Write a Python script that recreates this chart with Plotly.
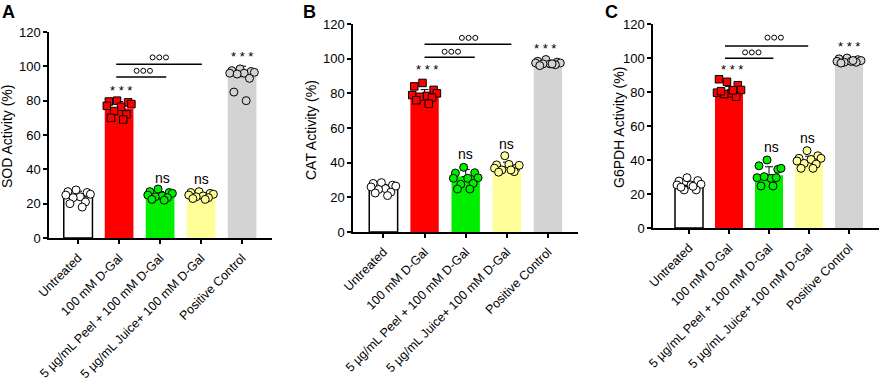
import plotly.graph_objects as go

categories = ["Untreated", "100 mM D-Gal", "5 µg/mL Peel + 100 mM D-Gal",
              "5 µg/mL Juice+ 100 mM D-Gal", "Positive Control"]
tick_values = [0, 20, 40, 60, 80, 100, 120]

# Bar heights (means) per panel
sod_bars = [24, 75.5, 25, 24.5, 94]
cat_bars = [25, 78.5, 32, 37.5, 97.5]
g6pdh_bars = [25, 80, 31, 39, 98]

# Individual replicate values per group
sod_untreated = [28, 27, 26.5, 25.5, 25, 24, 23.5, 21, 20, 18]
sod_dgal = [80, 79.5, 79, 78, 77, 76.5, 74, 72, 70, 69]
sod_peel = [28.5, 27, 26.5, 26, 25, 24.5, 24, 23.5, 22.5, 22]
sod_juice = [27, 26.5, 26, 25.5, 25, 24.5, 24, 23.5, 23, 22.5]
sod_pos = [98.5, 97.5, 97, 96.5, 96, 96, 95.5, 93, 85, 80]

cat_untreated = [28.5, 28, 27, 26.5, 26, 25, 24.5, 23, 22.5, 21]
cat_dgal = [86, 84, 82, 80, 79, 78.5, 78, 77.5, 76, 74]
cat_peel = [37.3, 34, 34.2, 31.3, 31, 31, 27.5, 28, 24.8, 24.8]
cat_juice = [44, 38.7, 36.8, 38.5, 36.8, 39, 35.8, 34.8, 34.5, 35.8]
cat_pos = [99.5, 98.5, 98, 97.5, 97.5, 97, 97, 96.5, 96, 97]

g6pdh_untreated = [29.6, 27.6, 27.9, 25.7, 25.3, 25.3, 22.4, 22.4, 24, 24.5]
g6pdh_dgal = [86, 87.5, 84, 81.2, 79.6, 79.2, 78.8, 77.2, 80.5, 81]
g6pdh_peel = [40, 36.6, 34.5, 35.1, 29.6, 29.2, 30.2, 29.6, 24.7, 24.7]
g6pdh_juice = [45.5, 41, 42.5, 41, 39.4, 40.3, 38, 37.6, 35.1, 35.1]
g6pdh_pos = [100, 99.5, 99, 98.5, 98, 98, 97.5, 97.5, 97, 98.5]

# horizontal jitter of replicate points (category units)
jitter = [-0.05, -0.25, 0.22, 0.3, -0.3, 0.05, -0.12, 0.18, -0.2, 0.1]

fill_colors = ["#FFFFFF", "#FF0000", "#00EE00", "#FFFF99", "#D3D3D3"]
symbols = ["circle", "square", "circle", "circle", "circle"]

panels = [
    dict(bars=sod_bars, pts=[sod_untreated, sod_dgal, sod_peel, sod_juice, sod_pos],
         title="SOD Activity (%)", letter="A",
         xdom=[49/879, 272/879], ydom=[(383-238)/383, (383-32)/383],
         xrange=[-0.71, 4.73], width=0.7, unit=41,
         title_xy=(7, 137),
         lines=[(0.93, 2.15, 93.8), (0.93, 3.02, 101.2)],
         rings=[(1.59, 97.4), (1.98, 105.2)],
         stars=[(1.05, 86.2), (4.0, 105.6)],
         ns=[(2.05, 34.8), (3.0, 34.4)], letter_x=0),
    dict(bars=cat_bars, pts=[cat_untreated, cat_dgal, cat_peel, cat_juice, cat_pos],
         title="CAT Activity (%)", letter="B",
         xdom=[353/879, 578/879], ydom=[(383-232)/383, (383-24)/383],
         xrange=[-0.74, 4.73], width=0.69, unit=41.1,
         title_xy=(311, 130),
         lines=[(1.0, 2.22, 100.8), (1.0, 3.11, 108.3)],
         rings=[(1.65, 104), (2.07, 112)],
         stars=[(1.07, 93.5), (3.93, 106)],
         ns=[(2.0, 45), (3.0, 50.8)], letter_x=301),
    dict(bars=g6pdh_bars, pts=[g6pdh_untreated, g6pdh_dgal, g6pdh_peel, g6pdh_juice, g6pdh_pos],
         title="G6PDH Activity (%)", letter="C",
         xdom=[653/879, 1.0], ydom=[(383-228)/383, (383-24)/383],
         xrange=[-0.9, 4.75], width=0.7, unit=40,
         title_xy=(619, 128),
         lines=[(0.9, 2.11, 99.8), (0.9, 2.98, 107)],
         rings=[(1.57, 103.3), (2.13, 112)],
         stars=[(1.07, 93.3), (4.0, 106.6)],
         ns=[(2.06, 47.8), (2.97, 52.7)], letter_x=603),
]

FONT = "Arial, Liberation Sans, sans-serif"
fig = go.Figure()
annotations = []
shapes = []

for i, p in enumerate(panels):
    ax = "" if i == 0 else str(i + 1)
    xref, yref = "x" + ax, "y" + ax
    sds = []
    for vals in p["pts"]:
        m = sum(vals) / len(vals)
        sds.append((sum((v - m) ** 2 for v in vals) / (len(vals) - 1)) ** 0.5)
    fig.add_trace(go.Bar(
        x=list(range(5)), y=p["bars"], width=p["width"],
        marker=dict(color=fill_colors,
                    line=dict(color=["black", "rgba(0,0,0,0)", "rgba(0,0,0,0)",
                                     "rgba(0,0,0,0)", "rgba(0,0,0,0)"], width=1.5)),
        error_y=dict(type="data", symmetric=False, array=sds, arrayminus=[0] * 5,
                     color="black", thickness=1, width=4),
        xaxis=xref, yaxis=yref, showlegend=False, hoverinfo="skip"))
    for g, vals in enumerate(p["pts"]):
        fig.add_trace(go.Scatter(
            x=[g + j for j in jitter[:len(vals)]], y=vals, mode="markers",
            marker=dict(symbol=symbols[g], size=8 if symbols[g] == "circle" else 7.5,
                        color=fill_colors[g], line=dict(color="black", width=1)),
            xaxis=xref, yaxis=yref, showlegend=False, hoverinfo="skip", cliponaxis=False))
    layout_x = dict(domain=p["xdom"], range=p["xrange"], tickmode="array",
                    tickvals=list(range(5)), ticktext=categories, tickangle=-45,
                    showline=True, linecolor="black", linewidth=1.5, automargin=False,
                    ticks="outside", ticklen=4, tickwidth=1.5, tickcolor="black",
                    ticklabelstandoff=2,
                    showgrid=False, zeroline=False, anchor=yref,
                    tickfont=dict(family=FONT, size=12.5, color="black"))
    layout_y = dict(domain=p["ydom"], range=[0, 120], tickmode="array",
                    tickvals=tick_values, showline=True, linecolor="black", linewidth=1.5,
                    ticks="outside", ticklen=4, tickwidth=1.5, tickcolor="black",
                    showgrid=False, zeroline=False, anchor=xref, automargin=False,
                    tickfont=dict(family=FONT, size=13, color="black"))
    fig.update_layout(**{"xaxis" + ax: layout_x, "yaxis" + ax: layout_y})

    for (x0, x1, yv) in p["lines"]:
        shapes.append(dict(type="line", xref=xref, yref=yref, x0=x0, x1=x1, y0=yv, y1=yv,
                           line=dict(color="black", width=1.5)))
    # significance rings (three small open circles) centred on each bracket label
    step = 6.7 / p["unit"]
    rx, ry = [], []
    for (xv, yv) in p["rings"]:
        rx += [xv - step, xv, xv + step]
        ry += [yv, yv, yv]
    fig.add_trace(go.Scatter(
        x=rx, y=ry, mode="markers",
        marker=dict(symbol="circle-open", size=5, color="black", line=dict(width=1)),
        xaxis=xref, yaxis=yref, showlegend=False, hoverinfo="skip", cliponaxis=False))
    for (xv, yv) in p["stars"]:
        annotations.append(dict(xref=xref, yref=yref, x=xv, y=yv, text="* * *",
                                showarrow=False, yanchor="middle",
                                font=dict(family=FONT, size=13, color="black")))
    for (xv, yv) in p["ns"]:
        annotations.append(dict(xref=xref, yref=yref, x=xv, y=yv, text="ns",
                                showarrow=False, yanchor="middle",
                                font=dict(family=FONT, size=14, color="black")))
    tx, ty = p["title_xy"]
    annotations.append(dict(xref="paper", yref="paper", x=tx / 879, y=(383 - ty) / 383,
                            text=p["title"], textangle=-90, showarrow=False,
                            xanchor="center", yanchor="middle",
                            font=dict(family=FONT, size=14, color="black")))
    annotations.append(dict(xref="paper", yref="paper", x=p["letter_x"] / 879, y=1.0,
                            text="<b>" + p["letter"] + "</b>", showarrow=False,
                            xanchor="left", yanchor="top",
                            font=dict(family=FONT, size=18, color="black")))

fig.update_layout(width=879, height=383, margin=dict(l=0, r=0, t=0, b=0),
                  plot_bgcolor="white", paper_bgcolor="white", barmode="overlay",
                  annotations=annotations, shapes=shapes, showlegend=False)
fig.write_html("out.html", config={"displayModeBar": False},
               post_script="document.body.style.margin='0';")
